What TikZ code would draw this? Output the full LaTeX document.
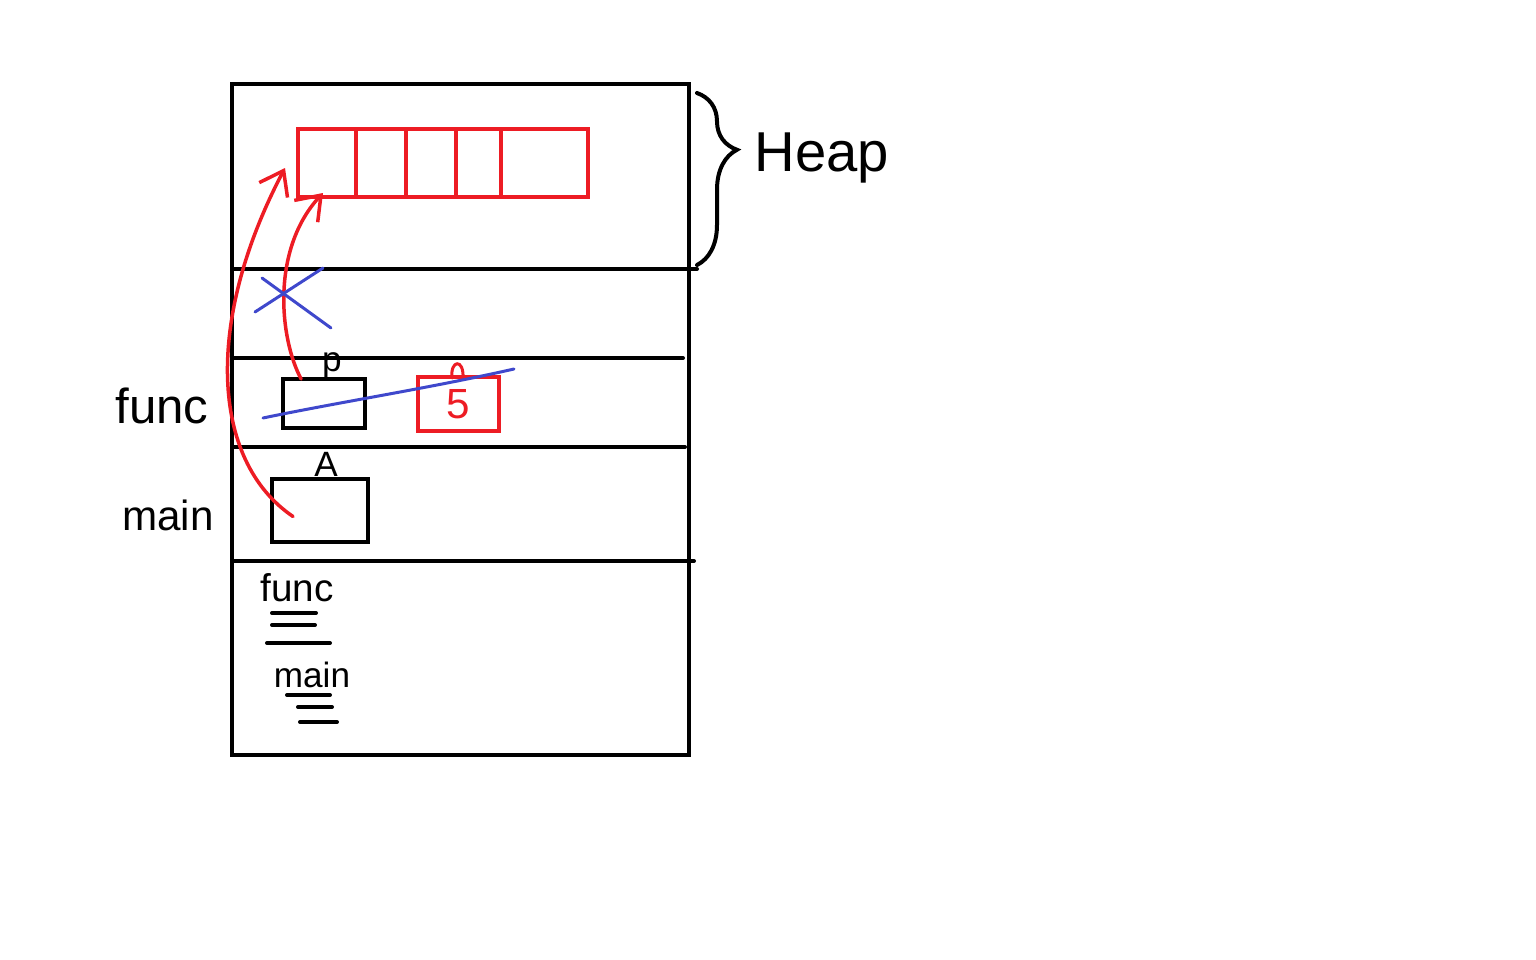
\documentclass[tikz,border=0pt]{standalone}
\usepackage{fontspec}
\setmainfont{Liberation Sans}
\usetikzlibrary{arrows.meta,positioning,calc,decorations.pathreplacing}
\definecolor{inkred}{RGB}{237,28,36}
\definecolor{inkblue}{RGB}{63,72,204}

\begin{document}
\begin{tikzpicture}[x=0.1mm, y=-0.1mm, line width=0.4mm, line cap=round,
  bx/.style={draw, inner sep=0pt, outer sep=0pt},
  cl/.style={draw=inkred, minimum height=6.8mm, inner sep=0pt, outer sep=0pt},
  ptr/.style={draw=inkred, line width=0.35mm, -{Straight Barb[length=2.2mm,width=3.2mm]}},
  xo/.style={draw=inkblue, line width=0.3mm},
  lb/.style={font=\fontsize{14}{16}\selectfont, inner sep=0pt},
  sm/.style={font=\fontsize{10}{12}\selectfont, inner sep=0pt}]
\useasboundingbox (0,0) rectangle (1536,960);
% memory and its frames
\draw (232,84) rectangle (689,755);
\draw (232,269) -- (697,269);
\draw (232,358) -- (683,358);
\draw (232,447) -- (685,447);
\draw (232,561) -- (694,561);
\draw[decorate, decoration={brace, amplitude=4mm, aspect=0.33}] (697,93) -- (697,265);
\node[lb, font=\fontsize{16}{18}\selectfont] (heap) at (822,158) {Heap};
% heap array
\node[cl, minimum width=5.8mm] (c0) at (327,163) {};
\node[cl, minimum width=5mm, right=0pt of c0] (c1) {};
\node[cl, minimum width=5mm, right=0pt of c1] (c2) {};
\node[cl, minimum width=4.5mm, right=0pt of c2] (c3) {};
\node[cl, minimum width=8.7mm, right=0pt of c3] (c4) {};
% func frame
\node[lb] (fnc) at (162,406) {func};
\node[bx, minimum width=8.2mm, minimum height=4.9mm] (boxP) at (324,403.5) {};
\node[sm] (pl) at (332,366) {p};
\node[bx, draw=inkred, minimum width=8.1mm, minimum height=5.4mm] (box5) at (458.5,404) {};
\node[lb, inkred, font=\fontsize{12}{14}\selectfont] (five) at (box5) {5};
\draw[inkred, line width=0.3mm] (452,378) .. controls (450,360) and (464,358) .. (463,378);
% main frame
\node[lb, font=\fontsize{12}{14}\selectfont] (mn) at (168,515) {main};
\node[bx, minimum width=9.6mm, minimum height=6.3mm] (boxA) at (320,510.5) {};
\node[sm] (al) at (326,464) {A};
% code area
\node[lb, font=\fontsize{11}{13}\selectfont] (fnc2) at (297,588) {func};
\draw (272,613) -- (316,613);
\draw (272,625) -- (315,625);
\draw (267,643) -- (330,643);
\node[lb, font=\fontsize{10}{12}\selectfont] (mn2) at (312,675) {main};
\draw (287,695) -- (330,695);
\draw (298,707) -- (332,707);
\draw (300,722) -- (337,722);
% pointers
\draw[ptr] ($(boxA.center)+(-27,6)$) .. controls (210,460) and (205,320) .. ($(c0.west)+(-13,5)$);
\draw[ptr] (boxP.133) .. controls (280,340) and (270,250) .. ($(c0.south)+(-4,-4)$);
% crossed out
\draw[xo] (255,312) -- (323,268);
\draw[xo] (262,278) -- (331,328);
\draw[xo] (263,418) .. controls (340,402) and (430,388) .. (514,369);
\end{tikzpicture}
\end{document}
